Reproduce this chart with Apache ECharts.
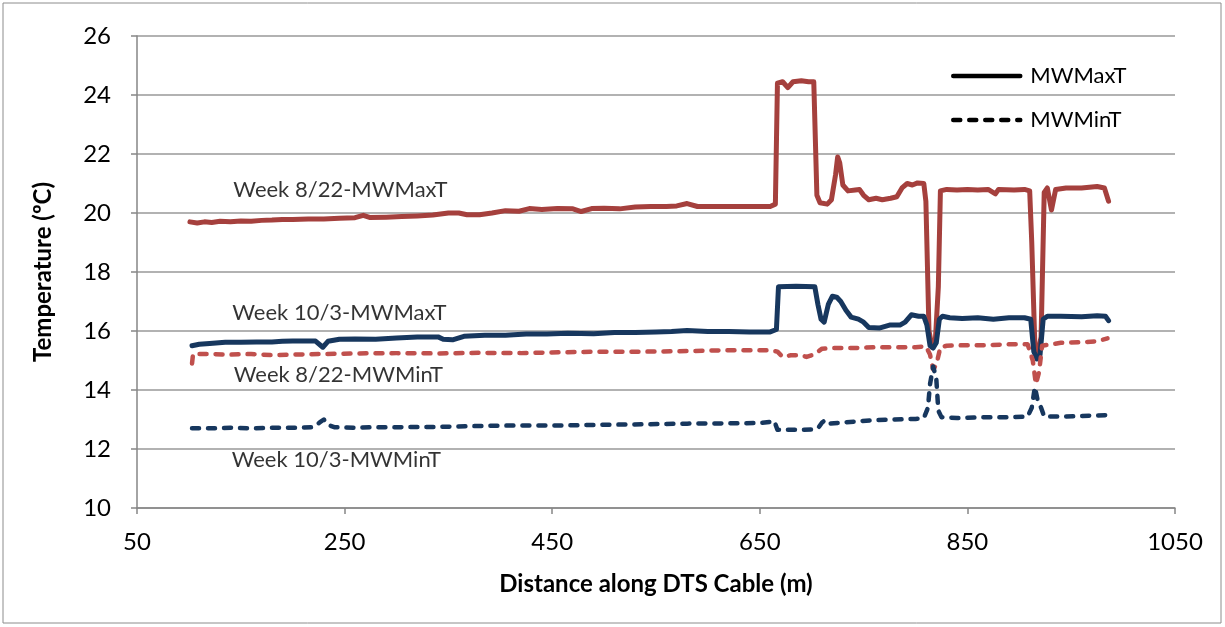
<!DOCTYPE html>
<html>
<head>
<meta charset="utf-8">
<script src="https://cdn.jsdelivr.net/npm/echarts@6/dist/echarts.min.js"></script>
<style>
  html, body { margin: 0; padding: 0; background: #fff; }
  #main { width: 1225px; height: 627px; }
</style>
</head>
<body>
<div id="main"></div>
<script>
// Week 8/22 - MWMaxT (red, solid)
const maxAugX = [101, 108, 115, 122, 130, 140, 150, 160, 170, 180, 190, 200, 215, 230, 245, 260, 268, 274, 290, 305, 320, 335, 350, 360, 368, 380, 392, 405, 418, 428, 440, 455, 470, 478, 488, 500, 515, 530, 545, 560, 570, 580, 590, 600, 615, 630, 645, 660, 665, 667, 672, 677, 682, 690, 697, 702, 705, 708, 715, 719, 723, 725, 727, 730, 735, 742, 746, 750, 755, 762, 768, 776, 782, 787, 792, 797, 802, 808, 810, 813, 816, 819, 822, 824, 830, 840, 850, 860, 870, 877, 880, 895, 905, 910, 912, 915, 918, 921, 924, 927, 931, 935, 945, 960, 975, 982, 986];
const maxAugY = [19.70, 19.66, 19.70, 19.68, 19.72, 19.70, 19.73, 19.72, 19.75, 19.76, 19.78, 19.78, 19.80, 19.80, 19.82, 19.84, 19.92, 19.85, 19.86, 19.88, 19.90, 19.93, 20.00, 20.00, 19.94, 19.94, 20.00, 20.08, 20.06, 20.15, 20.12, 20.15, 20.14, 20.05, 20.15, 20.16, 20.14, 20.20, 20.22, 20.22, 20.24, 20.32, 20.22, 20.22, 20.22, 20.22, 20.22, 20.22, 20.30, 24.40, 24.45, 24.25, 24.45, 24.48, 24.45, 24.45, 20.60, 20.35, 20.30, 20.45, 21.30, 21.90, 21.70, 20.95, 20.75, 20.78, 20.80, 20.60, 20.45, 20.50, 20.45, 20.50, 20.55, 20.85, 21.00, 20.95, 21.02, 21.00, 20.40, 16.00, 15.45, 15.60, 17.50, 20.75, 20.80, 20.78, 20.80, 20.78, 20.80, 20.65, 20.80, 20.78, 20.80, 20.75, 19.00, 15.50, 15.30, 15.80, 20.70, 20.85, 20.10, 20.80, 20.85, 20.85, 20.90, 20.85, 20.40];

// Week 10/3 - MWMaxT (blue, solid)
const maxOctX = [103, 110, 120, 135, 150, 165, 180, 190, 200, 222, 229, 234, 245, 260, 280, 300, 320, 340, 345, 354, 365, 385, 405, 425, 445, 465, 490, 510, 530, 550, 565, 580, 600, 620, 640, 660, 666, 668, 685, 703, 706, 709, 712, 716, 720, 724, 728, 733, 738, 745, 750, 755, 765, 775, 785, 790, 796, 803, 808, 811, 814, 817, 820, 823, 826, 833, 845, 860, 875, 890, 905, 911, 914, 917, 920, 923, 927, 940, 960, 975, 983, 986];
const maxOctY = [15.50, 15.55, 15.58, 15.62, 15.62, 15.63, 15.63, 15.65, 15.66, 15.66, 15.45, 15.65, 15.72, 15.73, 15.72, 15.76, 15.80, 15.80, 15.72, 15.70, 15.82, 15.86, 15.86, 15.90, 15.90, 15.92, 15.91, 15.95, 15.95, 15.97, 15.98, 16.02, 15.98, 15.98, 15.97, 15.97, 16.05, 17.50, 17.52, 17.50, 16.90, 16.40, 16.30, 16.90, 17.18, 17.15, 17.00, 16.70, 16.47, 16.40, 16.30, 16.12, 16.10, 16.20, 16.20, 16.30, 16.55, 16.50, 16.50, 16.20, 15.50, 15.42, 15.60, 16.40, 16.50, 16.45, 16.42, 16.45, 16.40, 16.45, 16.45, 16.40, 15.30, 15.05, 15.20, 16.40, 16.50, 16.50, 16.48, 16.52, 16.50, 16.35];

// Week 8/22 - MWMinT (red, dashed)
const minAugX = [103, 104, 120, 140, 160, 180, 200, 230, 260, 300, 340, 380, 420, 460, 500, 540, 580, 620, 660, 667, 672, 680, 690, 695, 702, 710, 720, 740, 760, 780, 800, 810, 814, 817, 820, 824, 830, 850, 870, 890, 908, 913, 916, 919, 922, 940, 960, 975, 985];
const minAugY = [14.90, 15.22, 15.22, 15.20, 15.22, 15.18, 15.20, 15.22, 15.24, 15.25, 15.24, 15.26, 15.25, 15.28, 15.30, 15.30, 15.32, 15.35, 15.35, 15.30, 15.12, 15.18, 15.18, 15.12, 15.20, 15.40, 15.42, 15.42, 15.45, 15.45, 15.45, 15.48, 15.20, 14.70, 14.85, 15.45, 15.50, 15.52, 15.52, 15.55, 15.55, 15.00, 14.20, 14.60, 15.50, 15.60, 15.62, 15.65, 15.75];

// Week 10/3 - MWMinT (blue, dashed)
const minOctX = [103, 120, 140, 160, 180, 200, 220, 226, 230, 234, 240, 260, 280, 300, 340, 380, 420, 460, 500, 540, 580, 620, 650, 660, 664, 667, 680, 700, 706, 710, 713, 717, 730, 760, 780, 800, 808, 812, 814, 817, 820, 822, 825, 840, 870, 890, 908, 912, 915, 918, 921, 924, 940, 960, 985];
const minOctY = [12.70, 12.70, 12.72, 12.70, 12.72, 12.72, 12.74, 12.90, 13.00, 12.82, 12.74, 12.72, 12.74, 12.74, 12.75, 12.78, 12.80, 12.80, 12.82, 12.84, 12.86, 12.87, 12.88, 12.92, 12.95, 12.65, 12.65, 12.66, 12.70, 12.90, 12.98, 12.86, 12.90, 12.98, 13.00, 13.02, 13.05, 13.40, 14.20, 14.80, 14.40, 13.30, 13.08, 13.05, 13.08, 13.08, 13.10, 13.40, 14.10, 13.60, 13.40, 13.10, 13.10, 13.12, 13.15];

// text labels placed in data coordinates
const noteText = ['Week 8/22-MWMaxT', 'Week 10/3-MWMaxT', 'Week 8/22-MWMinT', 'Week 10/3-MWMinT'];
const noteX = [246, 245, 244, 242];
const noteY = [20.78, 16.62, 14.50, 11.62];

const legendNames = ['MWMaxT', 'MWMinT'];

const pairs = (xs, ys) => xs.map((x, i) => [x, ys[i]]);

const FONT = 'Lato, "Open Sans", sans-serif';
const RED = '#a5403d', RED_LIGHT = '#c0504d', BLUE = '#17375e';

const chart = echarts.init(document.getElementById('main'));

const lineSeries = (name, data, color, width, dashed) => ({
  name: name,
  type: 'line',
  data: data,
  symbol: 'none',
  showSymbol: false,
  silent: true,
  lineStyle: {
    color: color,
    width: width,
    type: dashed ? [7, 9] : 'solid',
    cap: 'round',
    join: 'round'
  },
  itemStyle: {color: color},
  z: 3
});

const option = {
  animation: false,
  backgroundColor: '#fff',
  grid: {left: 137, right: 50, top: 36, bottom: 119},
  legend: {
    data: legendNames,
    orient: 'vertical',
    left: 946,
    top: 60,
    itemWidth: 67,
    itemHeight: 22,
    itemGap: 22,
    itemStyle: {opacity: 0},
    lineStyle: {width: 4.5},
    textStyle: {fontFamily: FONT, fontSize: 22, color: '#000', padding: [0, 0, 0, 5]}
  },
  xAxis: {
    type: 'value',
    min: 50,
    max: 1050,
    interval: 200,
    name: 'Distance along DTS Cable (m)',
    nameLocation: 'middle',
    nameGap: 64,
    nameTextStyle: {fontFamily: FONT, fontSize: 24, fontWeight: 'bold', color: '#000'},
    axisLine: {lineStyle: {color: '#868686', width: 1.5}},
    axisTick: {show: true, length: 6, lineStyle: {color: '#868686', width: 1.5}},
    axisLabel: {fontFamily: FONT, fontSize: 24, color: '#000', margin: 22, formatter: v => String(v)},
    splitLine: {show: false}
  },
  yAxis: {
    type: 'value',
    min: 10,
    max: 26,
    interval: 2,
    name: 'Temperature (ºC)',
    nameLocation: 'middle',
    nameRotate: 90,
    nameGap: 82,
    nameTextStyle: {fontFamily: FONT, fontSize: 24, fontWeight: 'bold', color: '#000'},
    axisLine: {show: true, lineStyle: {color: '#868686', width: 1.5}},
    axisTick: {show: true, length: 6, lineStyle: {color: '#868686', width: 1.5}},
    axisLabel: {fontFamily: FONT, fontSize: 24, color: '#000', margin: 26},
    splitLine: {show: true, lineStyle: {color: '#999', width: 1.5}}
  },
  graphic: [{
    type: 'rect',
    shape: {x: 3, y: 3, width: 1218, height: 620},
    style: {fill: 'none', stroke: '#8c8c8c', lineWidth: 1},
    silent: true,
    z: -1
  }],
  series: [
    lineSeries('Week 8/22-MWMaxT', pairs(maxAugX, maxAugY), RED, 5, false),
    lineSeries('Week 10/3-MWMaxT', pairs(maxOctX, maxOctY), BLUE, 5, false),
    lineSeries('Week 8/22-MWMinT', pairs(minAugX, minAugY), RED_LIGHT, 4.5, true),
    lineSeries('Week 10/3-MWMinT', pairs(minOctX, minOctY), BLUE, 4.5, true),
    // legend-only entries drawn in black
    lineSeries('MWMaxT', [], '#000', 4.5, false),
    lineSeries('MWMinT', [], '#000', 4.5, true),
    {
      name: 'notes',
      type: 'scatter',
      silent: true,
      symbolSize: 1,
      itemStyle: {color: 'rgba(0,0,0,0)'},
      label: {
        show: true,
        position: 'inside',
        formatter: p => p.name,
        fontFamily: FONT,
        fontSize: 22,
        color: '#000'
      },
      data: noteText.map((t, i) => ({name: t, value: [noteX[i], noteY[i]]})),
      z: 4
    }
  ]
};

chart.setOption(option);
</script>
</body>
</html>
